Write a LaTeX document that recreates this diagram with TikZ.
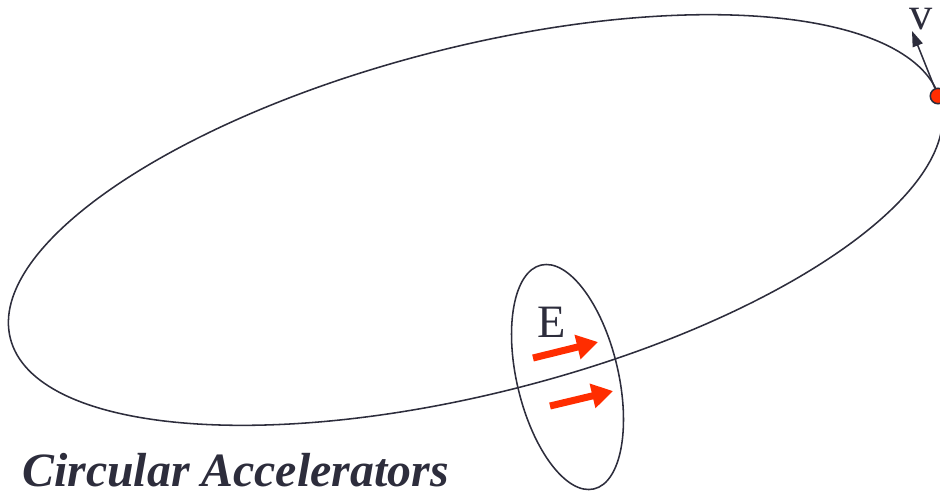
\documentclass[tikz,border=0pt]{standalone}
\usepackage{fontspec}
\setmainfont{Liberation Serif}
\usetikzlibrary{arrows.meta}
\definecolor{orbit}{RGB}{45,45,60}
\definecolor{fieldred}{RGB}{255,45,0}
\begin{document}
\begin{tikzpicture}[x=0.025cm,y=-0.025cm,
  orbitline/.style={draw=orbit,line width=1.1pt},
  fieldarrow/.style={fieldred,line width=5pt,-{Triangle[length=15pt,width=17pt]}},
  bigtext/.style={font=\fontsize{33}{38}\selectfont,text=orbit,inner sep=0pt}]
\useasboundingbox (0,0) rectangle (940,493);
\clip (0,0) rectangle (940,493);

\draw[orbitline,rotate around={14.3:(475.5,220)}] (475.5,220) ellipse [x radius=480,y radius=173];
\draw[orbitline,rotate around={13.3:(567.5,377)}] (567.5,377) ellipse [x radius=50.7,y radius=115];

\draw[fieldarrow] (533,358) -- (598,342);
\draw[fieldarrow] (550,406) -- (613,391);
\node[bigtext,anchor=base] (efield) at (552,337) {E};

\node[circle,draw=orbit,fill=fieldred,line width=1.1pt,minimum size=11pt,inner sep=0pt] (dot) at (938,96) {};
\coordinate (vtip) at (912,31);
\draw[orbit,line width=1.1pt,-{Triangle[length=11pt,width=7.5pt]}] (dot) -- (vtip);
\node[bigtext,anchor=base] (vel) at (921,29) {v};

\node[bigtext,anchor=base west,font=\fontsize{34}{38}\selectfont] (title) at (22,486) {\bfseries\itshape Circular Accelerators};
\end{tikzpicture}
\end{document}
